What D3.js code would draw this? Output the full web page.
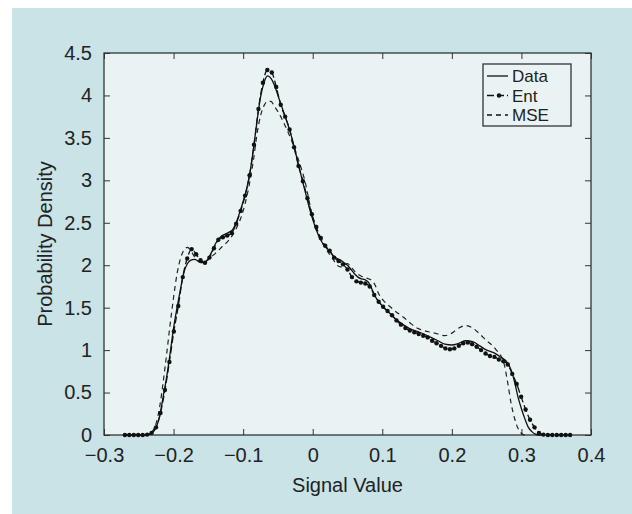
<!DOCTYPE html>
<html>
<head>
<meta charset="utf-8">
<script src="https://cdn.jsdelivr.net/npm/d3@7"></script>
<style>
  body { margin: 0; background: #fff; }
  svg text { font-family: "Liberation Sans", Arial, Helvetica, sans-serif; fill: #222; }
</style>
</head>
<body>
<div id="chart"></div>
<script>
// --- tick labels ---
const xTicks = [-0.3, -0.2, -0.1, 0, 0.1, 0.2, 0.3, 0.4];
const yTicks = [0, 0.5, 1, 1.5, 2, 2.5, 3, 3.5, 4, 4.5];

// --- Data (kernel density of the signal) : [value, density] ---
const dataCurve = [
  [-0.27, 0], [-0.24, 0], [-0.235, 0.01], [-0.23, 0.03], [-0.225, 0.09], [-0.22, 0.22],
  [-0.215, 0.45], [-0.21, 0.68], [-0.205, 0.96], [-0.2, 1.26], [-0.195, 1.5], [-0.19, 1.72],
  [-0.185, 1.92], [-0.18, 2.02], [-0.175, 2.06], [-0.17, 2.07], [-0.165, 2.05], [-0.16, 2.03],
  [-0.155, 2.03], [-0.15, 2.08], [-0.145, 2.16], [-0.14, 2.25], [-0.135, 2.31], [-0.13, 2.35],
  [-0.125, 2.37], [-0.12, 2.39], [-0.115, 2.42], [-0.11, 2.5], [-0.105, 2.62], [-0.1, 2.75],
  [-0.095, 2.9], [-0.09, 3.1], [-0.085, 3.38], [-0.08, 3.7], [-0.075, 3.98], [-0.07, 4.15],
  [-0.065, 4.23], [-0.06, 4.2], [-0.055, 4.12], [-0.05, 4.0], [-0.045, 3.88], [-0.04, 3.76],
  [-0.035, 3.64], [-0.03, 3.5], [-0.025, 3.34], [-0.02, 3.17], [-0.015, 3.0], [-0.01, 2.84],
  [-0.005, 2.68], [0, 2.54], [0.005, 2.42], [0.01, 2.32], [0.015, 2.25], [0.02, 2.2],
  [0.025, 2.16], [0.03, 2.11], [0.035, 2.08], [0.04, 2.06], [0.045, 2.03], [0.05, 2.0],
  [0.055, 1.95], [0.06, 1.9], [0.065, 1.86], [0.07, 1.84], [0.075, 1.83], [0.08, 1.8],
  [0.085, 1.72], [0.09, 1.63], [0.095, 1.57], [0.1, 1.52], [0.11, 1.44], [0.12, 1.36],
  [0.13, 1.3], [0.14, 1.25], [0.15, 1.22], [0.16, 1.19], [0.17, 1.15], [0.18, 1.11],
  [0.19, 1.07], [0.2, 1.06], [0.21, 1.08], [0.22, 1.11], [0.23, 1.1], [0.24, 1.05],
  [0.25, 1.0], [0.26, 0.97], [0.27, 0.92], [0.28, 0.85], [0.285, 0.77], [0.29, 0.63],
  [0.295, 0.45], [0.3, 0.31], [0.305, 0.19], [0.31, 0.09], [0.315, 0.04], [0.32, 0.01],
  [0.325, 0], [0.33, 0]
];

// --- Ent estimate (with markers) ---
const entCurve = [
  [-0.27, 0], [-0.2636, 0], [-0.2572, 0], [-0.2508, 0], [-0.2444, 0], [-0.238, 0.005],
  [-0.2316, 0.025], [-0.2252, 0.09], [-0.2188, 0.26], [-0.2124, 0.53], [-0.206, 0.86],
  [-0.1996, 1.22], [-0.1932, 1.52], [-0.1868, 1.86], [-0.1804, 2.08], [-0.174, 2.19],
  [-0.1676, 2.13], [-0.1612, 2.06], [-0.1548, 2.03], [-0.1484, 2.09], [-0.142, 2.2],
  [-0.1356, 2.3], [-0.1292, 2.33], [-0.1228, 2.35], [-0.1164, 2.38], [-0.11, 2.49],
  [-0.1036, 2.64], [-0.0972, 2.82], [-0.0908, 3.06], [-0.0844, 3.42], [-0.078, 3.84],
  [-0.0716, 4.15], [-0.0652, 4.3], [-0.0588, 4.27], [-0.0524, 4.1], [-0.046, 3.89],
  [-0.0396, 3.75], [-0.0332, 3.6], [-0.0268, 3.39], [-0.0204, 3.17], [-0.014, 2.99],
  [-0.0076, 2.79], [-0.0012, 2.6], [0.0052, 2.45], [0.0116, 2.32], [0.018, 2.23],
  [0.0244, 2.17], [0.0308, 2.09], [0.0372, 2.05], [0.0436, 2.01], [0.05, 1.95],
  [0.0564, 1.86], [0.0628, 1.81], [0.0692, 1.795], [0.0756, 1.785], [0.082, 1.75],
  [0.0884, 1.65], [0.0948, 1.57], [0.1012, 1.51], [0.1076, 1.46], [0.114, 1.41],
  [0.1204, 1.35], [0.1268, 1.3], [0.1332, 1.26], [0.1396, 1.23], [0.146, 1.21],
  [0.1524, 1.19], [0.1588, 1.17], [0.1652, 1.15], [0.1716, 1.11], [0.178, 1.08],
  [0.1844, 1.05], [0.1908, 1.02], [0.1972, 1.01], [0.2036, 1.02], [0.21, 1.05],
  [0.2164, 1.08], [0.2228, 1.09], [0.2292, 1.07], [0.2356, 1.04], [0.242, 1.0],
  [0.2484, 0.96], [0.2548, 0.93], [0.2612, 0.92], [0.2676, 0.89], [0.274, 0.87],
  [0.2804, 0.83], [0.2868, 0.72], [0.2932, 0.6], [0.2996, 0.45], [0.306, 0.3],
  [0.3124, 0.18], [0.3188, 0.09], [0.3252, 0.025], [0.3316, 0.005], [0.338, 0],
  [0.3444, 0], [0.3508, 0], [0.3572, 0], [0.3636, 0], [0.37, 0]
];

// --- MSE estimate ---
const mseCurve = [
  [-0.27, 0], [-0.24, 0], [-0.235, 0.02], [-0.23, 0.05], [-0.225, 0.14], [-0.22, 0.33],
  [-0.215, 0.62], [-0.21, 0.95], [-0.205, 1.3], [-0.2, 1.62], [-0.195, 1.9], [-0.19, 2.08],
  [-0.185, 2.18], [-0.18, 2.21], [-0.175, 2.17], [-0.17, 2.1], [-0.165, 2.05], [-0.16, 2.03],
  [-0.155, 2.04], [-0.15, 2.07], [-0.14, 2.14], [-0.13, 2.22], [-0.12, 2.3], [-0.11, 2.43],
  [-0.1, 2.64], [-0.095, 2.8], [-0.09, 3.0], [-0.085, 3.25], [-0.08, 3.55], [-0.075, 3.76],
  [-0.07, 3.88], [-0.065, 3.93], [-0.06, 3.93], [-0.055, 3.87], [-0.05, 3.81], [-0.04, 3.65],
  [-0.03, 3.46], [-0.02, 3.23], [-0.01, 2.95], [-0.005, 2.75], [0, 2.56], [0.005, 2.42],
  [0.01, 2.32], [0.02, 2.18], [0.03, 2.06], [0.035, 2.0], [0.04, 1.98], [0.045, 2.0],
  [0.05, 2.02], [0.055, 1.98], [0.06, 1.93], [0.07, 1.87], [0.08, 1.84], [0.085, 1.82],
  [0.09, 1.76], [0.095, 1.66], [0.1, 1.6], [0.11, 1.52], [0.12, 1.45], [0.13, 1.39],
  [0.14, 1.32], [0.15, 1.26], [0.16, 1.23], [0.17, 1.21], [0.18, 1.19], [0.19, 1.17],
  [0.2, 1.2], [0.21, 1.26], [0.22, 1.29], [0.23, 1.26], [0.24, 1.19], [0.25, 1.11],
  [0.26, 1.04], [0.265, 0.99], [0.27, 0.94], [0.275, 0.84], [0.28, 0.63], [0.285, 0.38],
  [0.29, 0.2], [0.295, 0.08], [0.3, 0.02], [0.305, 0], [0.31, 0]
];

const legendNames = ["Data", "Ent", "MSE"];

// --- layout ---
const W = 632, H = 514;
const plot = { left: 104, right: 591, top: 53, bottom: 435 };

const svg = d3.select("#chart").append("svg")
    .attr("width", W)
    .attr("height", H);

// outer panel
svg.append("rect")
    .attr("x", 12).attr("y", 8)
    .attr("width", W - 12).attr("height", H - 8)
    .attr("fill", "#c9e3e7");

// plot area
svg.append("rect")
    .attr("x", plot.left).attr("y", plot.top)
    .attr("width", plot.right - plot.left).attr("height", plot.bottom - plot.top)
    .attr("fill", "#e9f3f4");

const x = d3.scaleLinear().domain([-0.3, 0.4]).range([plot.left, plot.right]);
const y = d3.scaleLinear().domain([0, 4.5]).range([plot.bottom, plot.top]);
const fmt = d3.format("~g");

function styleAxis(g) {
    g.select(".domain").remove();
    g.selectAll(".tick line").attr("stroke", "#333").attr("stroke-width", 1);
    g.selectAll(".tick text").attr("font-size", 20).attr("fill", "#222");
}

// --- axes (ticks point inward) ---
svg.append("g")
    .attr("transform", `translate(0,${plot.bottom})`)
    .call(d3.axisBottom(x).tickValues(xTicks).tickFormat(fmt).tickSizeInner(-6).tickSizeOuter(0).tickPadding(13))
    .call(styleAxis);

svg.append("g")
    .attr("transform", `translate(0,${plot.top})`)
    .call(d3.axisTop(x).tickValues(xTicks).tickFormat("").tickSizeInner(-6).tickSizeOuter(0))
    .call(styleAxis);

svg.append("g")
    .attr("transform", `translate(${plot.left},0)`)
    .call(d3.axisLeft(y).tickValues(yTicks).tickFormat(fmt).tickSizeInner(-6).tickSizeOuter(0).tickPadding(12))
    .call(styleAxis);

svg.append("g")
    .attr("transform", `translate(${plot.right},0)`)
    .call(d3.axisRight(y).tickValues(yTicks).tickFormat("").tickSizeInner(-6).tickSizeOuter(0))
    .call(styleAxis);

// frame
svg.append("rect")
    .attr("x", plot.left).attr("y", plot.top)
    .attr("width", plot.right - plot.left).attr("height", plot.bottom - plot.top)
    .attr("fill", "none")
    .attr("stroke", "#333")
    .attr("stroke-width", 1.3);

// --- axis titles ---
svg.append("text")
    .attr("x", (plot.left + plot.right) / 2)
    .attr("y", 492)
    .attr("text-anchor", "middle")
    .attr("font-size", 20)
    .text("Signal Value");

svg.append("text")
    .attr("transform", `translate(52,${(plot.top + plot.bottom) / 2}) rotate(-90)`)
    .attr("text-anchor", "middle")
    .attr("font-size", 20)
    .text("Probability Density");

// --- curves ---
const line = d3.line()
    .x(d => x(d[0]))
    .y(d => y(d[1]))
    .curve(d3.curveMonotoneX);

svg.append("path")
    .datum(mseCurve)
    .attr("d", line)
    .attr("fill", "none")
    .attr("stroke", "#222")
    .attr("stroke-width", 1.2)
    .attr("stroke-dasharray", "5,4");

svg.append("path")
    .datum(dataCurve)
    .attr("d", line)
    .attr("fill", "none")
    .attr("stroke", "#111")
    .attr("stroke-width", 1.3);

svg.append("path")
    .datum(entCurve)
    .attr("d", line)
    .attr("fill", "none")
    .attr("stroke", "#111")
    .attr("stroke-width", 1.3)
    .attr("stroke-dasharray", "7,3");

svg.selectAll("circle.ent")
    .data(entCurve)
    .enter()
    .append("circle")
    .attr("class", "ent")
    .attr("cx", d => x(d[0]))
    .attr("cy", d => y(d[1]))
    .attr("r", 2.2)
    .attr("fill", "#111");

// --- legend ---
const lg = svg.append("g").attr("transform", "translate(483,64)");
lg.append("rect")
    .attr("width", 88).attr("height", 62)
    .attr("fill", "#e9f3f4")
    .attr("stroke", "#333")
    .attr("stroke-width", 1.3);

const dashes = [null, "7,3", "5,4"];
legendNames.forEach((name, i) => {
    const ly = 12 + i * 19.5;
    lg.append("line")
        .attr("x1", 4).attr("x2", 25)
        .attr("y1", ly).attr("y2", ly)
        .attr("stroke", "#111")
        .attr("stroke-width", 1.3)
        .attr("stroke-dasharray", dashes[i]);
    if (name === "Ent") {
        lg.append("circle").attr("cx", 16).attr("cy", ly).attr("r", 2.2).attr("fill", "#111");
    }
    lg.append("text")
        .attr("x", 29)
        .attr("y", ly)
        .attr("dy", "0.36em")
        .attr("font-size", 17)
        .text(name);
});
</script>
</body>
</html>
